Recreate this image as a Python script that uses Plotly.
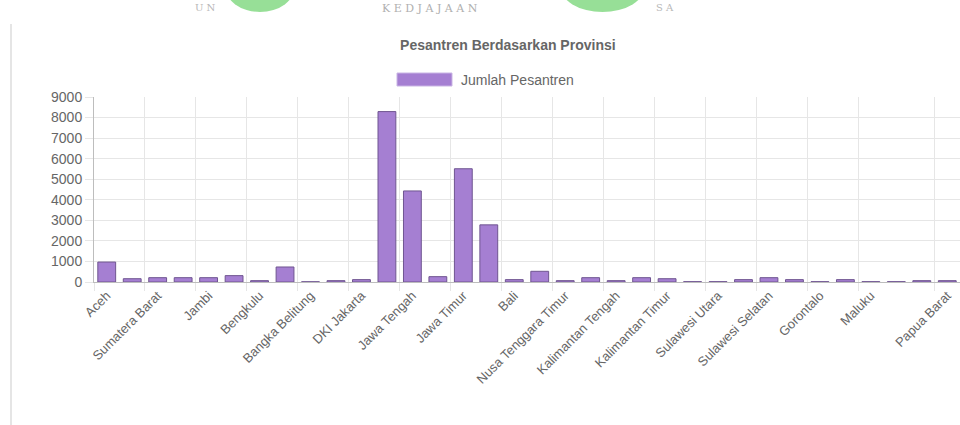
import plotly.graph_objects as go

provinces = [
    "Aceh", "Sumatera Utara", "Sumatera Barat", "Riau", "Jambi", "Sumatera Selatan",
    "Bengkulu", "Lampung", "Bangka Belitung", "Kepulauan Riau", "DKI Jakarta",
    "Jawa Barat", "Jawa Tengah", "DI Yogyakarta", "Jawa Timur", "Banten", "Bali",
    "Nusa Tenggara Barat", "Nusa Tenggara Timur", "Kalimantan Barat", "Kalimantan Tengah",
    "Kalimantan Selatan", "Kalimantan Timur", "Kalimantan Utara", "Sulawesi Utara",
    "Sulawesi Tengah", "Sulawesi Selatan", "Sulawesi Tenggara", "Gorontalo",
    "Sulawesi Barat", "Maluku", "Maluku Utara", "Papua", "Papua Barat",
]
jumlah = [
    970, 160, 210, 210, 210, 310,
    65, 730, 10, 65, 115,
    8290, 4430, 260, 5510, 2780, 115,
    520, 65, 210, 65,
    210, 160, 15, 15,
    115, 210, 115, 15,
    115, 15, 15, 65, 65,
]
shown_labels = [0, 2, 4, 6, 8, 10, 12, 14, 16, 18, 20, 22, 24, 26, 28, 30, 33]

title_text = "Pesantren Berdasarkan Provinsi"
legend_text = "Jumlah Pesantren"

FONT = "Liberation Sans, Arial, sans-serif"
GRID = "#e6e6e6"
TXT = "#666666"
FILL = "#a57fd2"
EDGE = "#6f5590"

idx = list(range(len(provinces)))

fig = go.Figure()
fig.add_trace(go.Bar(
    x=idx, y=jumlah, name=legend_text,
    marker=dict(color=FILL, line=dict(color=EDGE, width=1)),
    showlegend=False,
))
# helper trace to activate the boundary-grid axis
fig.add_trace(go.Scatter(x=[], y=[], xaxis="x2", showlegend=False, hoverinfo="skip"))


def px_x(px):
    return (px - 94) / 866


def px_y(py):
    return (282 - py) / 185


fig.update_layout(
    width=960, height=425,
    margin=dict(l=94, r=0, t=97, b=143),
    paper_bgcolor="white", plot_bgcolor="white",
    bargap=0.3,
    font=dict(family=FONT, color=TXT),
    title=dict(text="<b>" + title_text + "</b>", x=0.529, xanchor="center",
               y=1 - 45 / 425, yanchor="middle",
               font=dict(size=14, color=TXT, family=FONT)),
    xaxis=dict(
        range=[-0.5, len(provinces) - 0.5],
        tickmode="array", tickvals=shown_labels,
        ticktext=[provinces[i] for i in shown_labels],
        tickangle=-45, showgrid=False, zeroline=False,
        showline=True, linecolor="#bdbdbd", linewidth=1,
        ticks="", tickfont=dict(size=13, color=TXT, family=FONT),
    ),
    xaxis2=dict(
        overlaying="x", anchor="y", side="bottom",
        range=[-0.5, len(provinces) - 0.5],
        tickmode="array", tickvals=[i - 0.5 for i in shown_labels],
        showticklabels=False, showgrid=True, gridcolor=GRID, gridwidth=1,
        ticks="outside", ticklen=8, tickcolor=GRID, zeroline=False,
    ),
    yaxis=dict(
        range=[0, 9000], dtick=1000, showgrid=True, gridcolor=GRID,
        zeroline=True, zerolinecolor="#bdbdbd", zerolinewidth=1,
        showline=True, linecolor="#bdbdbd", linewidth=1,
        ticks="outside", ticklen=8, tickcolor=GRID,
        tickfont=dict(size=14, color=TXT, family=FONT),
    ),
    shapes=[
        # legend swatch
        dict(type="rect", xref="paper", yref="paper",
             x0=px_x(397), x1=px_x(452), y0=px_y(86), y1=px_y(73),
             fillcolor=FILL, line=dict(color="#c9b5e4", width=1)),
        # page border line on the left
        dict(type="line", xref="paper", yref="paper",
             x0=px_x(11), x1=px_x(11), y0=px_y(430), y1=px_y(24),
             line=dict(color="#dddddd", width=1.5)),
        # watermark fragments (green logo)
        dict(type="circle", xref="paper", yref="paper",
             x0=px_x(225), x1=px_x(295), y0=px_y(12), y1=px_y(-40),
             fillcolor="#74d474", line=dict(width=0), opacity=0.75),
        dict(type="circle", xref="paper", yref="paper",
             x0=px_x(560), x1=px_x(645), y0=px_y(12), y1=px_y(-40),
             fillcolor="#74d474", line=dict(width=0), opacity=0.75),
    ],
    annotations=[
        dict(text=legend_text, xref="paper", yref="paper",
             x=px_x(459), y=px_y(79.5), xanchor="left", yanchor="middle",
             showarrow=False, font=dict(size=14, color=TXT, family=FONT)),
        dict(text="K E D J A J A A N", xref="paper", yref="paper",
             x=px_x(430), y=px_y(0), xanchor="center", yanchor="top",
             showarrow=False, font=dict(size=11, color="#b0b0b0", family="DejaVu Serif")),
        dict(text="U N", xref="paper", yref="paper",
             x=px_x(205), y=px_y(0), xanchor="center", yanchor="top",
             showarrow=False,
             font=dict(size=10, color="#b8b8b8", family="DejaVu Serif")),
        dict(text="S A", xref="paper", yref="paper",
             x=px_x(665), y=px_y(0), xanchor="center", yanchor="top",
             showarrow=False,
             font=dict(size=10, color="#b8b8b8", family="DejaVu Serif")),
    ],
)

fig.write_html("out.html")
